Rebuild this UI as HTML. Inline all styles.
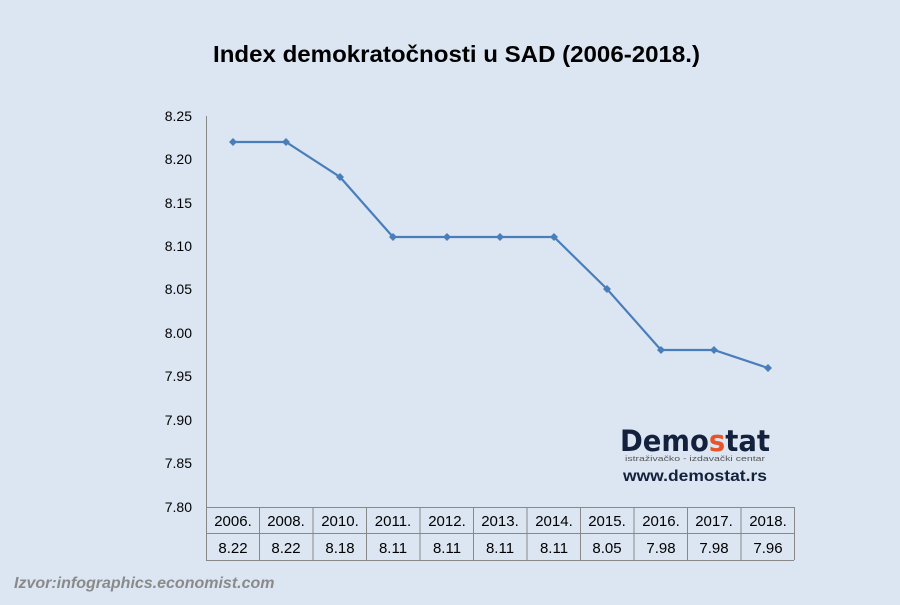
<!DOCTYPE html>
<html><head><meta charset="utf-8"><style>
body{margin:0;width:900px;height:600px;background:#dce6f2;overflow:hidden;font-family:"Liberation Sans",sans-serif}
</style></head><body>
<svg width="900" height="600" xmlns="http://www.w3.org/2000/svg">
<rect width="900" height="600" fill="#dce6f2"/>
<text x="213" y="62" font-family="Liberation Sans, sans-serif" font-weight="bold" font-size="23" fill="#000" textLength="487" lengthAdjust="spacingAndGlyphs">Index demokratočnosti u SAD (2006-2018.)</text>
<g font-family="Liberation Sans, sans-serif" font-size="14" fill="#000" text-anchor="end">
<text x="192" y="121">8.25</text><text x="192" y="164">8.20</text><text x="192" y="208">8.15</text>
<text x="192" y="251">8.10</text><text x="192" y="294">8.05</text><text x="192" y="338">8.00</text>
<text x="192" y="381">7.95</text><text x="192" y="425">7.90</text><text x="192" y="468">7.85</text>
<text x="192" y="512">7.80</text>
</g>
<line x1="206.5" y1="116" x2="206.5" y2="560" stroke="#888" stroke-width="1"/>
<g stroke="#888" stroke-width="1">
<line x1="206" y1="507.5" x2="794" y2="507.5"/>
<line x1="206" y1="533.5" x2="794" y2="533.5"/>
<line x1="206" y1="560.5" x2="794" y2="560.5"/>
<line x1="259.5" y1="507" x2="259.5" y2="560"/><line x1="313" y1="507" x2="313" y2="560"/>
<line x1="366.5" y1="507" x2="366.5" y2="560"/><line x1="420" y1="507" x2="420" y2="560"/>
<line x1="473.5" y1="507" x2="473.5" y2="560"/><line x1="527" y1="507" x2="527" y2="560"/>
<line x1="580.5" y1="507" x2="580.5" y2="560"/><line x1="634" y1="507" x2="634" y2="560"/>
<line x1="687.5" y1="507" x2="687.5" y2="560"/><line x1="741" y1="507" x2="741" y2="560"/>
<line x1="794.5" y1="507" x2="794.5" y2="560"/>
</g>
<g font-family="Liberation Sans, sans-serif" font-size="15" fill="#000" text-anchor="middle">
<text x="233" y="526">2006.</text><text x="286" y="526">2008.</text><text x="340" y="526">2010.</text>
<text x="393" y="526">2011.</text><text x="447" y="526">2012.</text><text x="500" y="526">2013.</text>
<text x="554" y="526">2014.</text><text x="607" y="526">2015.</text><text x="661" y="526">2016.</text>
<text x="714" y="526">2017.</text><text x="768" y="526">2018.</text>
<text x="233" y="553">8.22</text><text x="286" y="553">8.22</text><text x="340" y="553">8.18</text>
<text x="393" y="553">8.11</text><text x="447" y="553">8.11</text><text x="500" y="553">8.11</text>
<text x="554" y="553">8.11</text><text x="607" y="553">8.05</text><text x="661" y="553">7.98</text>
<text x="714" y="553">7.98</text><text x="768" y="553">7.96</text>
</g>
<polyline fill="none" stroke="#4a7ebb" stroke-width="2.2" points="233,142 286,142 340,177 393,237 447,237 500,237 554,237 607,289 661,350 714,350 768,368"/>
<g fill="#4a7ebb">
<path d="M233,138l4,4l-4,4l-4,-4z"/><path d="M286,138l4,4l-4,4l-4,-4z"/><path d="M340,173l4,4l-4,4l-4,-4z"/>
<path d="M393,233l4,4l-4,4l-4,-4z"/><path d="M447,233l4,4l-4,4l-4,-4z"/><path d="M500,233l4,4l-4,4l-4,-4z"/>
<path d="M554,233l4,4l-4,4l-4,-4z"/><path d="M607,285l4,4l-4,4l-4,-4z"/><path d="M661,346l4,4l-4,4l-4,-4z"/>
<path d="M714,346l4,4l-4,4l-4,-4z"/><path d="M768,364l4,4l-4,4l-4,-4z"/>
</g>
<text x="620" y="451" font-family="DejaVu Sans, sans-serif" font-weight="bold" font-size="29" fill="#14213d" textLength="150" lengthAdjust="spacingAndGlyphs">Demo<tspan fill="#e8542a">s</tspan>tat</text>
<text x="625" y="461" font-family="Liberation Sans, sans-serif" font-size="7.5" fill="#555" textLength="140" lengthAdjust="spacingAndGlyphs">istraživačko - izdavački centar</text>
<text x="623" y="481" font-family="Liberation Sans, sans-serif" font-weight="bold" font-size="16" fill="#14213d" textLength="144" lengthAdjust="spacingAndGlyphs">www.demostat.rs</text>
<text x="14" y="588" font-family="Liberation Sans, sans-serif" font-weight="bold" font-style="italic" font-size="16" fill="#8a8a8a">Izvor:infographics.economist.com</text>
</svg>
</body></html>
